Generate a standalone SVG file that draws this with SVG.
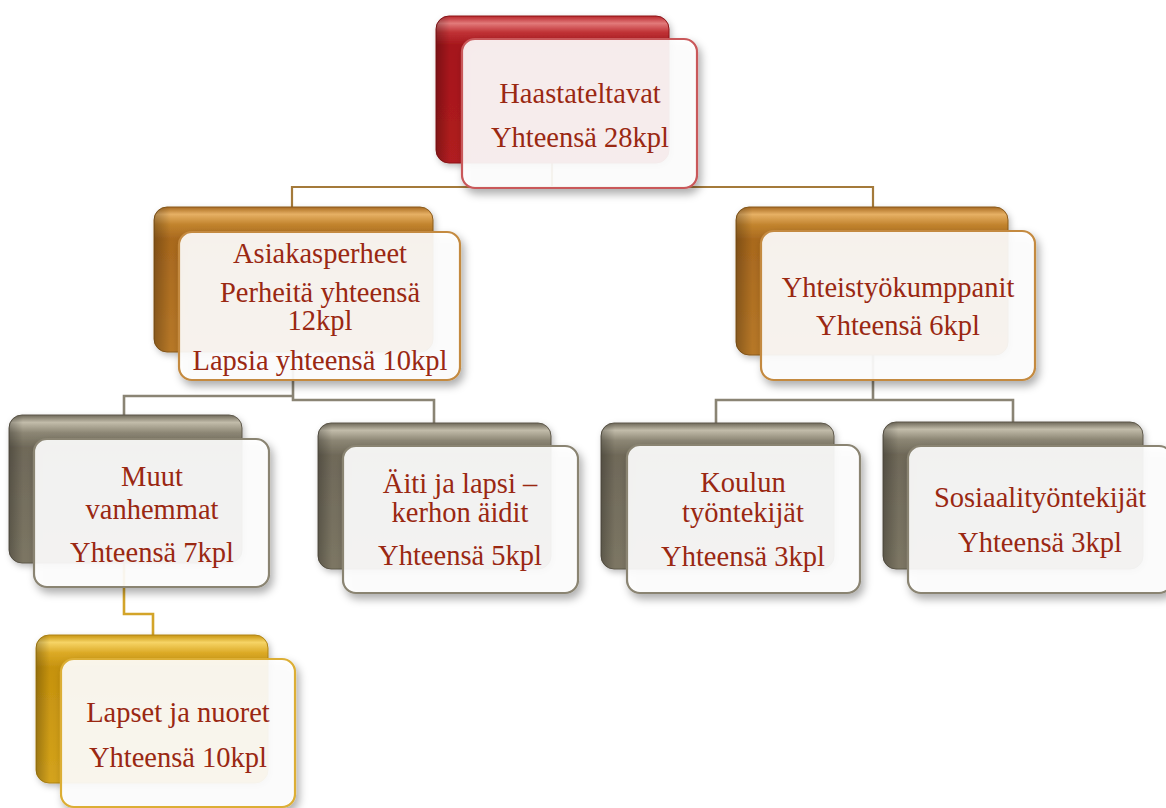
<svg xmlns="http://www.w3.org/2000/svg" width="1166" height="808" viewBox="0 0 1166 808">
<style>
  .lbl { font-family: "Liberation Serif", "Times New Roman", serif; font-size: 28.5px; fill: #9a2812; text-anchor: middle; }
  .front { fill: #ffffff; fill-opacity: 0.9; stroke-width: 2.2; filter: url(#shadow); }
  .back { stroke-width: 1; filter: url(#bshadow); }
  .gloss { fill: url(#glossG); }
  .c-top { fill: none; stroke: #a47a3a; stroke-width: 2.2; }
  .c-gray { fill: none; stroke: #8a8474; stroke-width: 2.6; }
  .c-gold { fill: none; stroke: #d3a429; stroke-width: 2.6; }
  .red .back { fill: url(#gRed); stroke: #8c1418; }
  .red .front { stroke: #c9585a; }
  .brown .back { fill: url(#gBrown); stroke: #8a5a1c; }
  .brown .front { stroke: #c48a40; }
  .gray .back { fill: url(#gGray); stroke: #5e584a; }
  .gray .front { stroke: #8a8472; }
  .gold .back { fill: url(#gGold); stroke: #b08414; }
  .gold .front { stroke: #dcae34; }
</style>
<defs>
  <filter id="shadow" x="-10%" y="-10%" width="125%" height="130%">
    <feDropShadow dx="3" dy="5" stdDeviation="4" flood-color="#000" flood-opacity="0.35"/>
  </filter>
  <filter id="bshadow" x="-10%" y="-10%" width="125%" height="130%">
    <feDropShadow dx="2" dy="3" stdDeviation="3" flood-color="#000" flood-opacity="0.25"/>
  </filter>
  <linearGradient id="gRed" x1="0" y1="0" x2="0" y2="1">
    <stop offset="0" stop-color="#b8262a"/>
    <stop offset="0.05" stop-color="#e27a7a"/>
    <stop offset="0.11" stop-color="#c03236"/>
    <stop offset="0.2" stop-color="#a5161b"/>
    <stop offset="1" stop-color="#b01c20"/>
  </linearGradient>
  <linearGradient id="gBrown" x1="0" y1="0" x2="0" y2="1">
    <stop offset="0" stop-color="#a86a20"/>
    <stop offset="0.05" stop-color="#e6b064"/>
    <stop offset="0.12" stop-color="#c2842e"/>
    <stop offset="0.22" stop-color="#a9691e"/>
    <stop offset="1" stop-color="#b77828"/>
  </linearGradient>
  <linearGradient id="gGray" x1="0" y1="0" x2="0" y2="1">
    <stop offset="0" stop-color="#6e6858"/>
    <stop offset="0.05" stop-color="#c2bcaa"/>
    <stop offset="0.12" stop-color="#8c8674"/>
    <stop offset="0.22" stop-color="#6f6959"/>
    <stop offset="1" stop-color="#7c7664"/>
  </linearGradient>
  <linearGradient id="gGold" x1="0" y1="0" x2="0" y2="1">
    <stop offset="0" stop-color="#c8940e"/>
    <stop offset="0.05" stop-color="#f6d466"/>
    <stop offset="0.12" stop-color="#dcaa26"/>
    <stop offset="0.22" stop-color="#c6920e"/>
    <stop offset="1" stop-color="#d4a31c"/>
  </linearGradient>
  <linearGradient id="glossG" x1="0" y1="0" x2="1" y2="0">
    <stop offset="0" stop-color="#000" stop-opacity="0.25"/>
    <stop offset="0.06" stop-color="#000" stop-opacity="0"/>
    <stop offset="1" stop-color="#000" stop-opacity="0"/>
  </linearGradient>
</defs>
<rect width="1166" height="808" fill="#ffffff"/>

<g id="connectors">
  <path class="c-top" d="M552,163 V187 M292,209 V187 H873 V209"/>
  <path class="c-gray" d="M293,352 V396 M124,416 V396 H293 V400 H434 V423"/>
  <path class="c-gray" d="M873,355 V400 M716,423 V400 H1013 V423"/>
  <path class="c-gold" d="M124,563 V614 H153 V636"/>
</g>

<g id="node-haastateltavat" class="red">
  <rect class="back" x="436" y="16" width="233" height="147" rx="13"/>
  <rect class="gloss" x="436" y="16" width="233" height="147" rx="13"/>
  <rect class="front" x="462" y="39" width="235" height="149" rx="13"/>
  <text class="lbl" x="580" y="103">Haastateltavat</text>
  <text class="lbl" x="580" y="147">Yhteensä 28kpl</text>
</g>

<g id="node-asiakasperheet" class="brown">
  <rect class="back" x="154" y="207" width="279" height="145" rx="13"/>
  <rect class="gloss" x="154" y="207" width="279" height="145" rx="13"/>
  <rect class="front" x="179" y="232" width="281" height="148" rx="13"/>
  <text class="lbl" x="320" y="263">Asiakasperheet</text>
  <text class="lbl" x="320" y="302">Perheitä yhteensä</text>
  <text class="lbl" x="320" y="330">12kpl</text>
  <text class="lbl" x="320" y="370">Lapsia yhteensä 10kpl</text>
</g>

<g id="node-yhteistyokumppanit" class="brown">
  <rect class="back" x="736" y="207" width="272" height="148" rx="13"/>
  <rect class="gloss" x="736" y="207" width="272" height="148" rx="13"/>
  <rect class="front" x="761" y="231" width="274" height="149" rx="13"/>
  <text class="lbl" x="898" y="297">Yhteistyökumppanit</text>
  <text class="lbl" x="898" y="335">Yhteensä 6kpl</text>
</g>

<g id="node-muut" class="gray">
  <rect class="back" x="9" y="415" width="233" height="148" rx="13"/>
  <rect class="gloss" x="9" y="415" width="233" height="148" rx="13"/>
  <rect class="front" x="34" y="439" width="235" height="148" rx="13"/>
  <text class="lbl" x="152" y="486">Muut</text>
  <text class="lbl" x="152" y="519">vanhemmat</text>
  <text class="lbl" x="152" y="562">Yhteensä 7kpl</text>
</g>

<g id="node-aiti" class="gray">
  <rect class="back" x="318" y="423" width="233" height="146" rx="13"/>
  <rect class="gloss" x="318" y="423" width="233" height="146" rx="13"/>
  <rect class="front" x="343" y="446" width="235" height="147" rx="13"/>
  <text class="lbl" x="460" y="493">Äiti ja lapsi –</text>
  <text class="lbl" x="460" y="522">kerhon äidit</text>
  <text class="lbl" x="460" y="565">Yhteensä 5kpl</text>
</g>

<g id="node-koulun" class="gray">
  <rect class="back" x="601" y="423" width="233" height="146" rx="13"/>
  <rect class="gloss" x="601" y="423" width="233" height="146" rx="13"/>
  <rect class="front" x="627" y="445" width="233" height="148" rx="13"/>
  <text class="lbl" x="743" y="492">Koulun</text>
  <text class="lbl" x="743" y="522">työntekijät</text>
  <text class="lbl" x="743" y="566">Yhteensä 3kpl</text>
</g>

<g id="node-sosiaali" class="gray">
  <rect class="back" x="883" y="422" width="260" height="147" rx="13"/>
  <rect class="gloss" x="883" y="422" width="260" height="147" rx="13"/>
  <rect class="front" x="908" y="446" width="264" height="147" rx="13"/>
  <text class="lbl" x="1040" y="507">Sosiaalityöntekijät</text>
  <text class="lbl" x="1040" y="552">Yhteensä 3kpl</text>
</g>

<g id="node-lapset" class="gold">
  <rect class="back" x="36" y="635" width="232" height="148" rx="13"/>
  <rect class="gloss" x="36" y="635" width="232" height="148" rx="13"/>
  <rect class="front" x="61" y="659" width="234" height="148" rx="13"/>
  <text class="lbl" x="178" y="722">Lapset ja nuoret</text>
  <text class="lbl" x="178" y="767">Yhteensä 10kpl</text>
</g>
</svg>
